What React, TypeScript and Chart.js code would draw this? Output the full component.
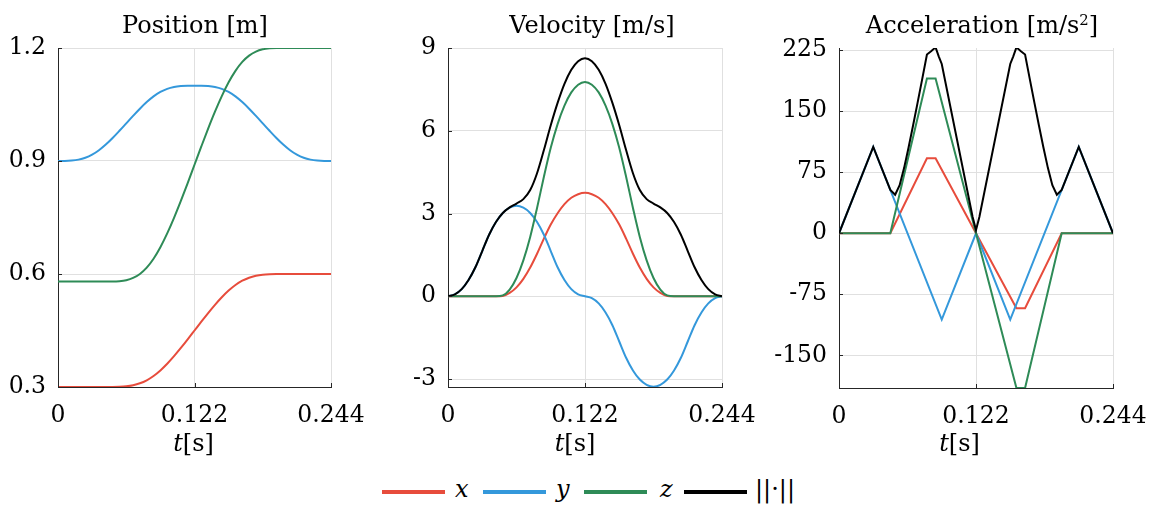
import React, { useEffect, useRef } from "react";
import { Chart, registerables } from "chart.js";
Chart.register(...registerables);

// ---------- data ----------
const T_SAMPLES = [0, 0.0061, 0.0122, 0.0183, 0.0244, 0.0305, 0.0366, 0.0427, 0.0488, 0.0549, 0.061, 0.0671, 0.0732, 0.0793, 0.0854, 0.0915, 0.0976, 0.1037, 0.1098, 0.1159, 0.122, 0.1281, 0.1342, 0.1403, 0.1464, 0.1525, 0.1586, 0.1647, 0.1708, 0.1769, 0.183, 0.1891, 0.1952, 0.2013, 0.2074, 0.2135, 0.2196, 0.2257, 0.2318, 0.2379, 0.244];

const POS_X = [0.3, 0.3, 0.3, 0.3, 0.3, 0.3, 0.3, 0.3, 0.3, 0.3004, 0.3017, 0.3046, 0.3098, 0.3179, 0.3293, 0.3441, 0.3618, 0.3818, 0.4036, 0.4265, 0.45, 0.4735, 0.4964, 0.5182, 0.5382, 0.5559, 0.5707, 0.5821, 0.5902, 0.5954, 0.5983, 0.5996, 0.6, 0.6, 0.6, 0.6, 0.6, 0.6, 0.6, 0.6, 0.6];
const POS_Y = [0.9, 0.9001, 0.9011, 0.9036, 0.9085, 0.9167, 0.9285, 0.9436, 0.9611, 0.9802, 1.0, 1.0198, 1.0389, 1.0564, 1.0715, 1.0833, 1.0915, 1.0964, 1.0989, 1.0999, 1.1, 1.0999, 1.0989, 1.0964, 1.0915, 1.0833, 1.0715, 1.0564, 1.0389, 1.0198, 1.0, 0.9802, 0.9611, 0.9436, 0.9285, 0.9167, 0.9085, 0.9036, 0.9011, 0.9001, 0.9];
const POS_Z = [0.58, 0.58, 0.58, 0.58, 0.58, 0.58, 0.58, 0.58, 0.58, 0.5808, 0.5835, 0.5895, 0.6002, 0.6169, 0.6406, 0.6711, 0.7077, 0.7491, 0.794, 0.8414, 0.89, 0.9386, 0.986, 1.0309, 1.0723, 1.1089, 1.1394, 1.1631, 1.1798, 1.1905, 1.1965, 1.1992, 1.2, 1.2, 1.2, 1.2, 1.2, 1.2, 1.2, 1.2, 1.2];

const VEL_X = [0, 0, 0, 0, 0, 0, 0, 0, 0.01, 0.12, 0.32, 0.63, 1.04, 1.54, 2.09, 2.6, 3.01, 3.34, 3.57, 3.7, 3.75, 3.7, 3.57, 3.34, 3.01, 2.6, 2.09, 1.54, 1.04, 0.63, 0.32, 0.12, 0.01, 0, 0, 0, 0, 0, 0, 0, 0];
const VEL_Y = [0, 0.07, 0.26, 0.59, 1.05, 1.64, 2.23, 2.69, 3.02, 3.21, 3.28, 3.21, 3.02, 2.69, 2.23, 1.64, 1.05, 0.59, 0.26, 0.07, 0, -0.07, -0.26, -0.59, -1.05, -1.64, -2.23, -2.69, -3.02, -3.21, -3.28, -3.21, -3.02, -2.69, -2.23, -1.64, -1.05, -0.59, -0.26, -0.07, 0];
const VEL_Z = [0, 0, 0, 0, 0, 0, 0, 0, 0.03, 0.24, 0.66, 1.3, 2.15, 3.2, 4.33, 5.38, 6.24, 6.91, 7.39, 7.67, 7.77, 7.67, 7.39, 6.91, 6.24, 5.38, 4.33, 3.2, 2.15, 1.3, 0.66, 0.24, 0.03, 0, 0, 0, 0, 0, 0, 0, 0];
const VEL_NORM = [0, 0.07, 0.26, 0.59, 1.05, 1.64, 2.23, 2.69, 3.02, 3.22, 3.36, 3.52, 3.85, 4.46, 5.3, 6.2, 7.01, 7.7, 8.21, 8.52, 8.63, 8.52, 8.21, 7.7, 7.01, 6.2, 5.3, 4.46, 3.85, 3.52, 3.36, 3.22, 3.02, 2.69, 2.23, 1.64, 1.05, 0.59, 0.26, 0.07, 0];

const ACC_T_XZ = [0, 0.0457, 0.0783, 0.086, 0.122, 0.158, 0.1657, 0.1983, 0.244];
const ACC_X = [0, 0, 92, 92, 0, -92, -92, 0, 0];
const ACC_Z = [0, 0, 190, 190, 0, -190, -190, 0, 0];
const ACC_T_Y = [0, 0.0305, 0.0915, 0.122, 0.1525, 0.2135, 0.244];
const ACC_Y = [0, 106, -106, 0, -106, 106, 0];
const ACC_T_NORM = [0, 0.0305, 0.0457, 0.05, 0.054, 0.058, 0.062, 0.066, 0.07, 0.074, 0.0783, 0.082, 0.086, 0.0888, 0.0915, 0.119, 0.122, 0.125, 0.1525, 0.1552, 0.158, 0.162, 0.1657, 0.17, 0.174, 0.178, 0.182, 0.186, 0.19, 0.194, 0.1983, 0.2135, 0.244];
const ACC_NORM = [0, 106, 53.2, 47.3, 59.0, 80.3, 105.6, 132.6, 160.4, 188.7, 219.5, 223.4, 228.3, 217.3, 207.9, 20, 4, 20, 207.9, 217.3, 228.3, 223.4, 219.5, 188.7, 160.4, 132.6, 105.6, 80.3, 59.0, 47.3, 53.2, 106, 0];

const X_TICKS = [0, 0.122, 0.244];
const X_TICK_LABELS = ["0", "0.122", "0.244"];
const POS_TICKS = [0.3, 0.6, 0.9, 1.2];
const POS_TICK_LABELS = ["0.3", "0.6", "0.9", "1.2"];
const VEL_TICKS = [-3, 0, 3, 6, 9];
const VEL_TICK_LABELS = ["-3", "0", "3", "6", "9"];
const ACC_TICKS = [-150, -75, 0, 75, 150, 225];
const ACC_TICK_LABELS = ["-150", "-75", "0", "75", "150", "225"];

const SERIES_NAMES = ["x", "y", "z", "||·||"];
const COLORS = ["#e74c3c", "#3498db", "#2e8b57", "#000000"];

// ---------- styling ----------
const FONT = "'DejaVu Serif', serif";
const AXIS_COLOR = "#262626";
const GRID_COLOR = "#e0e0e0";
const Y_AXIS_W = 85;
const RIGHT_PAD = 56;
const CANVAS_H = 440;
const TICK_SIZE = 23.5;

const pts = (xs: number[], ys: number[]) => xs.map((x, i) => ({ x, y: ys[i] }));

const innerTicks = {
  id: "innerTicks",
  afterDraw(chart: any) {
    const { ctx, chartArea, scales } = chart;
    ctx.save();
    ctx.strokeStyle = AXIS_COLOR;
    ctx.lineWidth = 1;
    scales.y.ticks.forEach((t: any) => {
      const y = Math.round(scales.y.getPixelForValue(t.value)) + 0.5;
      ctx.beginPath();
      ctx.moveTo(chartArea.left, y);
      ctx.lineTo(chartArea.left + 4, y);
      ctx.stroke();
    });
    scales.x.ticks.forEach((t: any) => {
      const x = Math.round(scales.x.getPixelForValue(t.value)) + 0.5;
      ctx.beginPath();
      ctx.moveTo(x, chartArea.bottom);
      ctx.lineTo(x, chartArea.bottom - 4);
      ctx.stroke();
    });
    ctx.restore();
  },
};

type Spec = {
  left: number;
  right: number;
  top: number;
  bottom: number;
  yMin: number;
  yMax: number;
  yTicks: number[];
  yLabels: string[];
  datasets: { data: { x: number; y: number }[]; color: string; smooth: boolean; order: number }[];
};

function Panel({ spec }: { spec: Spec }) {
  const ref = useRef<HTMLCanvasElement>(null);
  const W = Y_AXIS_W + (spec.right - spec.left) + RIGHT_PAD;
  useEffect(() => {
    if (!ref.current) return;
    const chart = new Chart(ref.current, {
      type: "line",
      data: {
        datasets: spec.datasets.map((d) => ({
          data: d.data,
          borderColor: d.color,
          backgroundColor: d.color,
          borderWidth: 2,
          pointRadius: 0,
          fill: false,
          order: d.order,
          tension: 0,
          cubicInterpolationMode: d.smooth ? "monotone" : "default",
        })),
      },
      options: {
        animation: false,
        responsive: false,
        maintainAspectRatio: false,
        parsing: false,
        layout: { padding: { top: spec.top, right: RIGHT_PAD, left: 0, bottom: 0 } },
        plugins: { legend: { display: false }, tooltip: { enabled: false }, title: { display: false } },
        scales: {
          x: {
            type: "linear",
            min: 0,
            max: 0.244,
            afterBuildTicks: (axis: any) => {
              axis.ticks = X_TICKS.map((v) => ({ value: v }));
            },
            afterFit: (axis: any) => {
              axis.height = CANVAS_H - spec.bottom;
            },
            ticks: {
              callback: (_v: any, i: number) => X_TICK_LABELS[i],
              font: { family: FONT, size: TICK_SIZE },
              color: "#000",
              padding: 15,
              maxRotation: 0,
              autoSkip: false,
            },
            grid: { color: GRID_COLOR, drawTicks: false, lineWidth: 1 },
            border: { display: true, color: AXIS_COLOR, width: 1 },
          },
          y: {
            type: "linear",
            min: spec.yMin,
            max: spec.yMax,
            afterBuildTicks: (axis: any) => {
              axis.ticks = spec.yTicks.map((v) => ({ value: v }));
            },
            afterFit: (axis: any) => {
              axis.width = Y_AXIS_W;
            },
            ticks: {
              callback: (_v: any, i: number) => spec.yLabels[i],
              font: { family: FONT, size: TICK_SIZE },
              color: "#000",
              padding: 12,
              autoSkip: false,
            },
            grid: { color: GRID_COLOR, drawTicks: false, lineWidth: 1 },
            border: { display: true, color: AXIS_COLOR, width: 1 },
          },
        },
      } as any,
      plugins: [innerTicks],
    });
    return () => chart.destroy();
  }, []);
  return (
    <canvas
      ref={ref}
      width={W}
      height={CANVAS_H}
      style={{ position: "absolute", left: spec.left - Y_AXIS_W, top: 0, width: W, height: CANVAS_H }}
    />
  );
}

const PANELS: Spec[] = [
  {
    left: 58, right: 331, top: 48, bottom: 387, yMin: 0.3, yMax: 1.2,
    yTicks: POS_TICKS, yLabels: POS_TICK_LABELS,
    datasets: [
      { data: pts(T_SAMPLES, POS_X), color: COLORS[0], smooth: true, order: 3 },
      { data: pts(T_SAMPLES, POS_Y), color: COLORS[1], smooth: true, order: 2 },
      { data: pts(T_SAMPLES, POS_Z), color: COLORS[2], smooth: true, order: 1 },
    ],
  },
  {
    left: 448, right: 722, top: 48, bottom: 387, yMin: -3.29, yMax: 9,
    yTicks: VEL_TICKS, yLabels: VEL_TICK_LABELS,
    datasets: [
      { data: pts(T_SAMPLES, VEL_X), color: COLORS[0], smooth: true, order: 3 },
      { data: pts(T_SAMPLES, VEL_Y), color: COLORS[1], smooth: true, order: 2 },
      { data: pts(T_SAMPLES, VEL_Z), color: COLORS[2], smooth: true, order: 1 },
      { data: pts(T_SAMPLES, VEL_NORM), color: COLORS[3], smooth: true, order: 0 },
    ],
  },
  {
    left: 839, right: 1113, top: 48, bottom: 388, yMin: -190, yMax: 227.5,
    yTicks: ACC_TICKS, yLabels: ACC_TICK_LABELS,
    datasets: [
      { data: pts(ACC_T_XZ, ACC_X), color: COLORS[0], smooth: false, order: 3 },
      { data: pts(ACC_T_Y, ACC_Y), color: COLORS[1], smooth: false, order: 2 },
      { data: pts(ACC_T_XZ, ACC_Z), color: COLORS[2], smooth: false, order: 1 },
      { data: pts(ACC_T_NORM, ACC_NORM), color: COLORS[3], smooth: false, order: 0 },
    ],
  },
];

const textBase: React.CSSProperties = {
  position: "absolute",
  transform: "translateX(-50%)",
  whiteSpace: "nowrap",
  fontFamily: FONT,
  color: "#000",
  lineHeight: "24px",
  fontSize: 24,
};

const TITLE_CENTERS = [195, 592, 982];
const XLABEL_CENTERS = [193.5, 575, 959.5];
const LEGEND_LINE_LEFT = [382, 483, 584, 684];
const LEGEND_TEXT_LEFT = [455, 556, 660, 755];

export default function App() {
  const titles = [
    <>Position [m]</>,
    <>Velocity [m/s]</>,
    <>
      Acceleration [m/s
      <span style={{ fontSize: "0.62em", position: "relative", top: "-0.55em" }}>2</span>]
    </>,
  ];
  return (
    <div style={{ position: "fixed", left: 0, top: 0, width: 1157, height: 507, background: "#fff", overflow: "hidden" }}>
      {PANELS.map((p, i) => (
        <Panel key={i} spec={p} />
      ))}
      {titles.map((t, i) => (
        <div key={"t" + i} style={{ ...textBase, left: TITLE_CENTERS[i], top: 13 }}>
          {t}
        </div>
      ))}
      {XLABEL_CENTERS.map((c, i) => (
        <div key={"x" + i} style={{ ...textBase, left: c, top: 431 }}>
          <i>t</i>[s]
        </div>
      ))}
      {SERIES_NAMES.map((n, i) => (
        <React.Fragment key={"l" + i}>
          <div
            style={{
              position: "absolute",
              left: LEGEND_LINE_LEFT[i],
              top: 489.5,
              width: 63,
              height: 4.5,
              background: COLORS[i],
            }}
          />
          <div
            style={{
              ...textBase,
              transform: "none",
              left: LEGEND_TEXT_LEFT[i],
              top: 477,
              fontStyle: i < 3 ? "italic" : "normal",
            }}
          >
            {n}
          </div>
        </React.Fragment>
      ))}
    </div>
  );
}
